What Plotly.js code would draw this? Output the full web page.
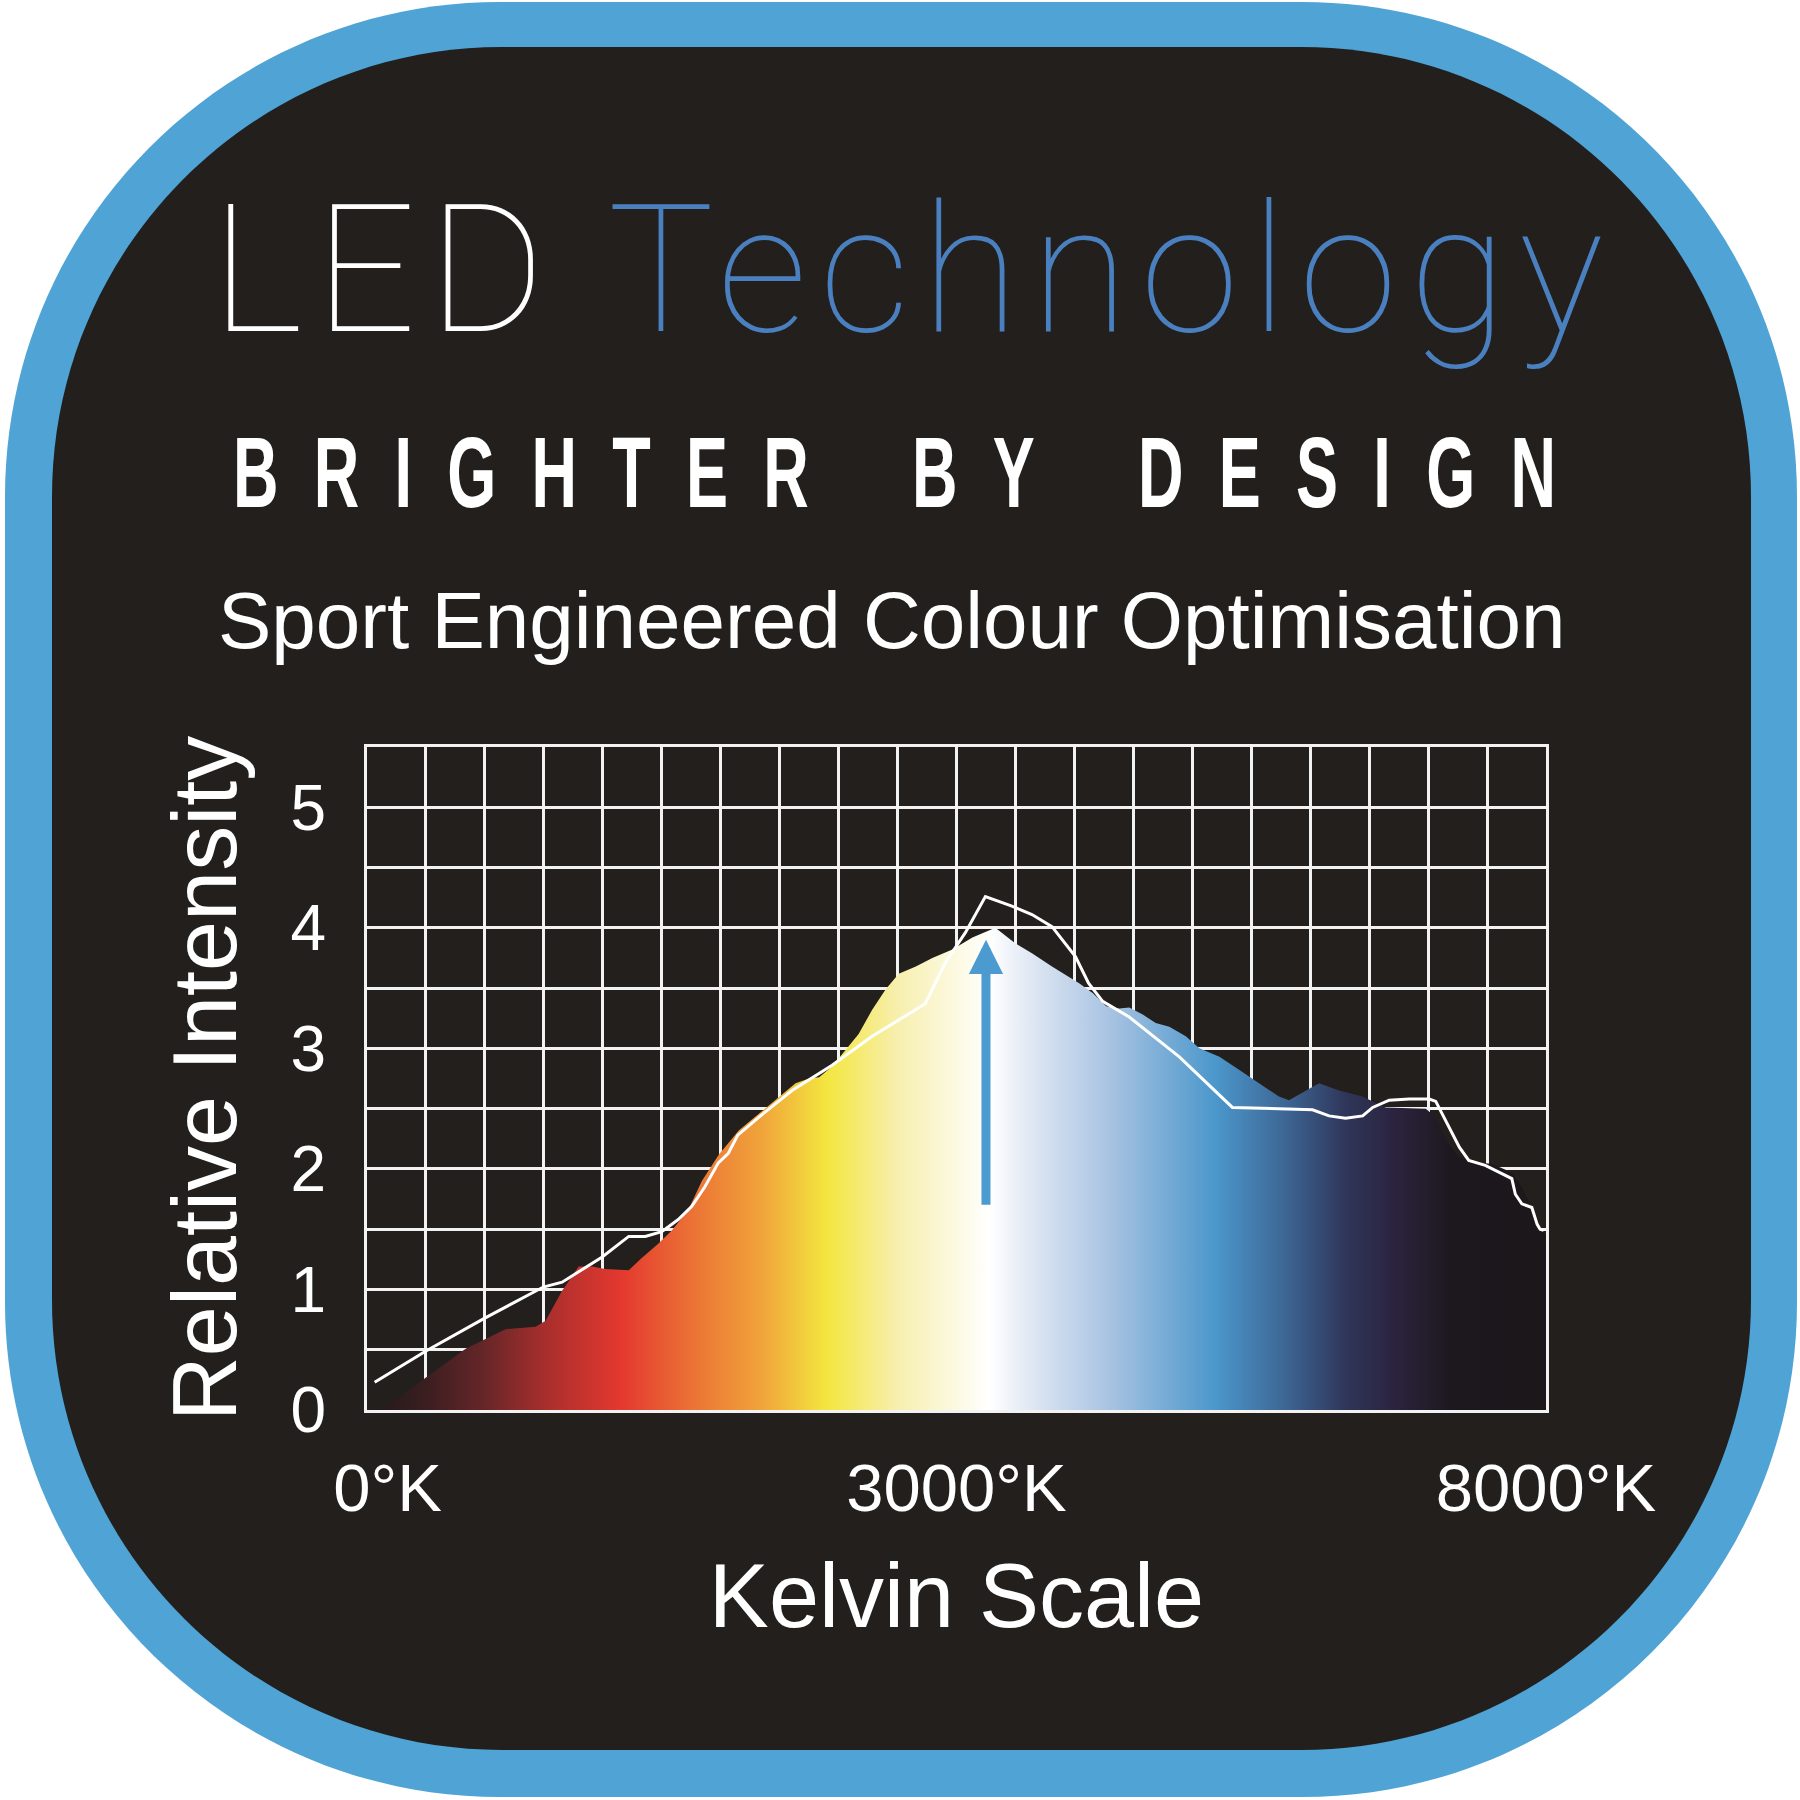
<!DOCTYPE html>
<html>
<head>
<meta charset="utf-8">
<script src="https://cdn.plot.ly/plotly-3.0.1.min.js"></script>
<style>
  html, body { margin: 0; padding: 0; background: #ffffff; }
  #chart { width: 1800px; height: 1800px; }
</style>
</head>
<body>
<div id="chart"></div>
<script>
// ---------------- DATA ----------------
// x is measured in grid columns (0..20) of the Kelvin scale, y is relative intensity
const spectrumX = [0.21, 0.6, 1.0, 1.68, 2.35, 2.86, 3.03, 3.31, 3.59, 3.82, 4.04, 4.44, 4.66, 4.94, 5.17, 5.45, 5.68, 5.97, 6.31, 6.65, 6.99, 7.27, 7.5, 7.67, 7.89, 8.12, 8.34, 8.57, 8.8, 9.02, 9.31, 9.59, 9.93, 10.27, 10.66, 11.0, 11.28, 11.62, 11.85, 12.08, 12.31, 12.54, 12.76, 12.93, 13.16, 13.38, 13.61, 13.89, 14.12, 14.46, 14.8, 15.14, 15.47, 15.64, 15.93, 16.15, 16.49, 16.89, 17.06, 17.28, 17.96, 18.13, 18.3, 18.52, 18.75, 19.09, 19.42, 19.59, 19.76, 19.9, 20.0];
const spectrumY = [0.0, 0.12, 0.27, 0.51, 0.67, 0.69, 0.74, 0.99, 1.19, 1.19, 1.17, 1.16, 1.26, 1.38, 1.49, 1.66, 1.9, 2.12, 2.32, 2.46, 2.6, 2.71, 2.75, 2.76, 2.85, 2.99, 3.12, 3.32, 3.49, 3.62, 3.68, 3.75, 3.82, 3.92, 4.0, 3.87, 3.79, 3.68, 3.61, 3.54, 3.46, 3.35, 3.33, 3.34, 3.28, 3.21, 3.18, 3.1, 3.0, 2.93, 2.82, 2.71, 2.6, 2.57, 2.65, 2.71, 2.65, 2.6, 2.56, 2.51, 2.5, 2.43, 2.24, 2.1, 2.06, 2.04, 1.97, 1.85, 1.68, 1.49, 1.46];

const referenceX = [0.13, 1.0, 1.99, 2.99, 3.31, 3.99, 4.44, 4.72, 5.0, 5.28, 5.51, 5.73, 5.96, 6.13, 6.29, 6.65, 7.21, 7.89, 8.57, 9.47, 9.81, 10.15, 10.49, 10.94, 11.28, 11.62, 12.02, 12.24, 12.48, 12.93, 13.78, 14.68, 16.04, 16.32, 16.6, 16.89, 17.06, 17.34, 17.68, 18.02, 18.13, 18.3, 18.53, 18.69, 18.97, 19.42, 19.48, 19.59, 19.76, 19.85, 19.9, 19.96];
const referenceY = [0.23, 0.49, 0.76, 1.02, 1.06, 1.27, 1.44, 1.44, 1.48, 1.58, 1.69, 1.85, 2.05, 2.13, 2.28, 2.43, 2.65, 2.86, 3.1, 3.37, 3.71, 3.96, 4.26, 4.18, 4.11, 4.01, 3.76, 3.54, 3.39, 3.26, 2.93, 2.51, 2.49, 2.44, 2.42, 2.44, 2.51, 2.57, 2.58, 2.58, 2.56, 2.4, 2.18, 2.07, 2.03, 1.92, 1.79, 1.71, 1.68, 1.54, 1.5, 1.49];

const arrowX = 10.5;          // column of the peak marker
const arrowFromY = 1.69;      // tail of the arrow
const arrowToY = 3.9;         // tip of the arrow

const xTickVals = [0.35, 10, 20];
const xTickText = ['0°K', '3000°K', '8000°K'];
const yTickVals = [0, 1, 2, 3, 4, 5];
const yTickText = ['0', '1', '2', '3', '4', '5'];

// colour of the light spectrum along the x axis (position on 0..1 of the 0..20 columns)
const spectrumStops = [0.0, 0.05, 0.1, 0.155, 0.215, 0.28, 0.335, 0.39, 0.45, 0.528, 0.57, 0.63, 0.72, 0.78, 0.83, 0.87, 0.92, 1.0];
const spectrumColors = ['#1f1a1a', '#3b1e20', '#672628', '#ac2f2d', '#e3382f', '#ec7635', '#f0a43a', '#f3e63f', '#f7efae', '#ffffff', '#d9e3f1', '#a8c3e2', '#4b97cb', '#3d6593', '#2f3659', '#2b2440', '#1d181e', '#1b171a'];

// ---------------- LAYOUT HELPERS ----------------
const W = 1800, H = 1800, ML = 367, MR = 254, MT = 747, MB = 390;
const PW = W - ML - MR, PH = H - MT - MB;
const px = x => (x - ML) / PW;
const py = y => (H - MB - y) / PH;
function pt(x, y) { return px(x).toFixed(5) + ',' + py(y).toFixed(5); }
function roundRect(x0, y0, x1, y1, r) {
  const k = 0.5523 * r;
  return 'M' + pt(x0 + r, y0) + ' L' + pt(x1 - r, y0) +
    ' C' + pt(x1 - r + k, y0) + ' ' + pt(x1, y0 + r - k) + ' ' + pt(x1, y0 + r) +
    ' L' + pt(x1, y1 - r) +
    ' C' + pt(x1, y1 - r + k) + ' ' + pt(x1 - r + k, y1) + ' ' + pt(x1 - r, y1) +
    ' L' + pt(x0 + r, y1) +
    ' C' + pt(x0 + r - k, y1) + ' ' + pt(x0, y1 - r + k) + ' ' + pt(x0, y1 - r) +
    ' L' + pt(x0, y0 + r) +
    ' C' + pt(x0, y0 + r - k) + ' ' + pt(x0 + r - k, y0) + ' ' + pt(x0 + r, y0) + ' Z';
}

const DARK = '#221f1c';
const FRAME_BLUE = '#4fa3d5';
const TEXT_BLUE = '#4a80c0';
const ARROW_BLUE = '#4b9bd0';
const GRID = '#f2f2f2';
const SANS = 'Liberation Sans, Arial, sans-serif';

const traces = [
  {
    type: 'scatter', mode: 'lines', x: spectrumX, y: spectrumY,
    line: { width: 0, color: 'rgba(0,0,0,0)' },
    fill: 'tozeroy',
    fillgradient: {
      type: 'horizontal', start: 0, stop: 20,
      colorscale: spectrumStops.map((s, i) => [s, spectrumColors[i]])
    },
    hoverinfo: 'skip', showlegend: false
  },
  {
    type: 'scatter', mode: 'lines', x: referenceX, y: referenceY,
    line: { color: '#ffffff', width: 3 },
    hoverinfo: 'skip', showlegend: false
  }
];

const LS_HEAD = 'letter-spacing:12px';
const LS_TAG = 'letter-spacing:56px';
const LS_GAP = 'letter-spacing:80px';

const layout = {
  width: W, height: H,
  margin: { l: ML, r: MR, t: MT, b: MB, pad: 0 },
  paper_bgcolor: '#ffffff',
  plot_bgcolor: DARK,
  showlegend: false,
  font: { family: SANS, color: '#ffffff' },
  xaxis: {
    range: [0, 20], tickmode: 'array', tickvals: xTickVals, ticktext: xTickText,
    showgrid: false, zeroline: false, ticks: '',
    ticklabelstandoff: 18,
    tickfont: { family: SANS, size: 67, color: '#ffffff' },
    showline: true, mirror: true, linecolor: GRID, linewidth: 3,
    minor: { tickmode: 'linear', tick0: 0, dtick: 1, showgrid: true, gridcolor: GRID, gridwidth: 3, ticks: '' },
    title: { text: 'Kelvin Scale', font: { family: SANS, size: 90, color: '#ffffff' }, standoff: 40 },
    fixedrange: true, automargin: false
  },
  yaxis: {
    range: [0, 5.5], tickmode: 'array', tickvals: yTickVals, ticktext: yTickText,
    showgrid: true, gridcolor: GRID, gridwidth: 3, zeroline: false, ticks: '',
    ticklabelstandoff: 25,
    tickfont: { family: SANS, size: 64, color: '#ffffff' },
    showline: true, mirror: true, linecolor: GRID, linewidth: 3,
    minor: { tickmode: 'linear', tick0: 0, dtick: 0.5, showgrid: true, gridcolor: GRID, gridwidth: 3, ticks: '' },
    title: { text: 'Relative Intensity', font: { family: SANS, size: 90, color: '#ffffff' }, standoff: 25 },
    fixedrange: true, automargin: false
  },
  shapes: [
    { type: 'path', xref: 'paper', yref: 'paper', layer: 'below', path: roundRect(5, 2, 1797, 1797, 495), fillcolor: FRAME_BLUE, line: { width: 0 } },
    { type: 'path', xref: 'paper', yref: 'paper', layer: 'below', path: roundRect(52, 47, 1751, 1750, 450), fillcolor: DARK, line: { width: 0 } }
  ],
  annotations: [
    {
      xref: 'paper', yref: 'paper', x: px(913), y: py(270), xanchor: 'center', yanchor: 'middle',
      text: '<span style="' + LS_HEAD + '">LED </span><span style="' + LS_HEAD + ';color:' + TEXT_BLUE + '">Technology</span>',
      font: { family: 'Roboto, Lato, sans-serif', size: 178, weight: 100, color: '#ffffff' },
      showarrow: false
    },
    {
      xref: 'paper', yref: 'paper', x: px(912), y: py(472), xanchor: 'center', yanchor: 'middle',
      text: '<span style="' + LS_TAG + '">BRIGHTER</span><span style="' + LS_GAP + '"> </span>' +
            '<span style="' + LS_TAG + '">BY</span><span style="' + LS_GAP + '"> </span>' +
            '<span style="' + LS_TAG + '">DESIGN</span>',
      font: { family: SANS, size: 100, weight: 'bold', color: '#ffffff' },
      showarrow: false, name: 'tagline'
    },
    {
      xref: 'paper', yref: 'paper', x: px(891), y: py(620), xanchor: 'center', yanchor: 'middle',
      text: 'Sport Engineered Colour Optimisation',
      font: { family: SANS, size: 80, color: '#ffffff' },
      showarrow: false
    },
    {
      xref: 'x', yref: 'y', x: arrowX, y: arrowToY, axref: 'x', ayref: 'y', ax: arrowX, ay: arrowFromY,
      text: '', showarrow: true, arrowhead: 2, arrowsize: 0.76, arrowwidth: 9, arrowcolor: ARROW_BLUE,
      standoff: 0, startstandoff: 0
    }
  ]
};

Plotly.newPlot('chart', traces, layout, { staticPlot: true, displayModeBar: false }).then(function (gd) {
  // condensed display face for the tagline: narrow the bold text horizontally about its centre
  gd.querySelectorAll('.annotation-text').forEach(function (t) {
    if (t.textContent.indexOf('BRIGHTER') === 0) {
      const b = t.getBBox();
      const cx = b.x + b.width / 2;
      t.setAttribute('transform', 'translate(' + cx + ',0) scale(0.63,1) translate(' + (-cx) + ',0)');
    }
  });
});
</script>
</body>
</html>
